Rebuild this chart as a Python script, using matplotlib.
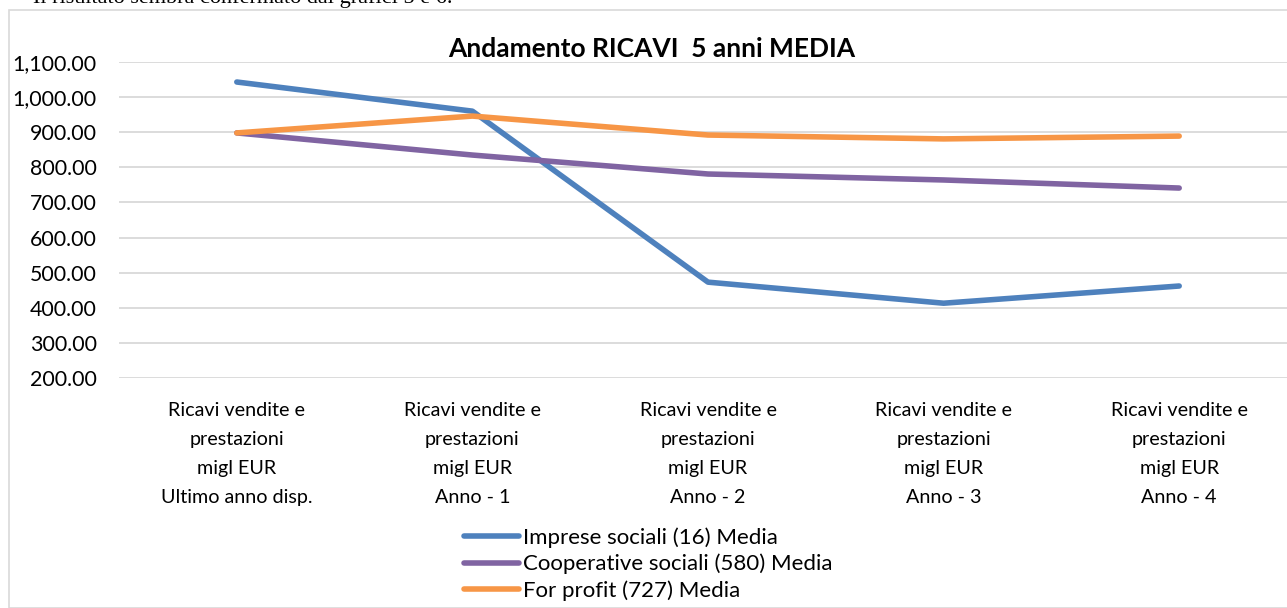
import matplotlib
matplotlib.use("Agg")
import matplotlib.pyplot as plt
from matplotlib.ticker import FuncFormatter, FixedLocator
from matplotlib.patches import Rectangle

categories = [
    "Ricavi vendite e\nprestazioni\nmigl EUR\nUltimo anno disp.",
    "Ricavi vendite e\nprestazioni\nmigl EUR\nAnno - 1",
    "Ricavi vendite e\nprestazioni\nmigl EUR\nAnno - 2",
    "Ricavi vendite e\nprestazioni\nmigl EUR\nAnno - 3",
    "Ricavi vendite e\nprestazioni\nmigl EUR\nAnno - 4",
]
imprese = [1043, 960, 473, 413, 462]
cooperative = [898, 835, 781, 764, 741]
forprofit = [898, 946, 892, 881, 889]
series_names = ["Imprese sociali (16) Media", "Cooperative sociali (580) Media", "For profit (727) Media"]
yticks = [200, 300, 400, 500, 600, 700, 800, 900, 1000, 1100]

plt.rcParams['font.family'] = ['Lato', 'DejaVu Sans']

W, H = 1287, 608
fig = plt.figure(figsize=(W/100, H/100), dpi=100)

# chart border
fig.patches.append(Rectangle((9/W, 0), 1.0, 1 - 10/H, transform=fig.transFigure,
                             fill=False, edgecolor='#d9d9d9', lw=1.2))
# document text above (clipped)
fig.text(33/W, 1 + 2/H, "Il risultato sembra confermato dai grafici 5 e 6.",
         fontsize=16, family='Liberation Serif', va='center', ha='left')

left, right = 119, 1297
top_px, bot_px = 62, 378
ax = fig.add_axes([left/W, 1 - bot_px/H, (right-left)/W, (bot_px-top_px)/H])
x = range(len(categories))
colors = ['#4e81bd', '#8064a2', '#f79646']
for vals, c, n in zip([imprese, cooperative, forprofit], colors, series_names):
    ax.plot(x, vals, color=c, lw=4, label=n, solid_capstyle='round', solid_joinstyle='round')

ax.set_xlim(-0.5, len(categories) - 0.5)
ax.set_ylim(200, 1100)
ax.yaxis.set_major_locator(FixedLocator(yticks))
ax.yaxis.set_major_formatter(FuncFormatter(lambda v, p: f"{v:,.2f}"))
ax.grid(axis='y', color='#d9d9d9', lw=1.3)
ax.set_axisbelow(True)
for s in ax.spines.values():
    s.set_visible(False)
ax.tick_params(axis='y', length=0, labelsize=15.4, pad=16)
ax.tick_params(axis='x', length=0, labelsize=14.2, pad=17)
ax.set_xticks(list(x))
ax.set_xticklabels(categories, linespacing=1.87)

fig.text(652/W, 1 - 49/H, "Andamento RICAVI  5 anni MEDIA", ha='center', va='center',
         fontsize=19, fontweight='bold')

leg = fig.legend(loc='center', bbox_to_anchor=(648/W, 1 - 564/H), frameon=False,
                 fontsize=16, handlelength=2.5, handletextpad=0.15, labelspacing=0.27,
                 borderpad=0)

fig.savefig("out.png", dpi=100)
